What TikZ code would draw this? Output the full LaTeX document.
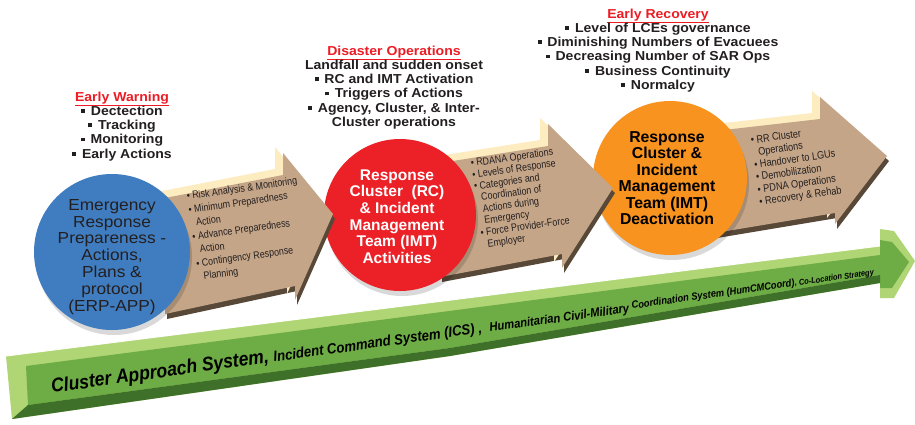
\documentclass[tikz,border=0pt]{standalone}
\usepackage{fontspec}
\setmainfont{Liberation Sans}
\newfontfamily\widefont[FakeStretch=1.08]{Liberation Sans}
\newfontfamily\narrowfont[FakeStretch=0.85]{Liberation Sans}
\newfontfamily\barfont[FakeStretch=0.9]{Liberation Sans}
\usetikzlibrary{calc}

\definecolor{headred}{RGB}{237,28,36}
\definecolor{listgray}{RGB}{35,31,32}
\definecolor{erpblue}{RGB}{64,125,192}
\definecolor{rcred}{RGB}{235,33,39}
\definecolor{imtorange}{RGB}{247,147,30}
\definecolor{arrowbrown}{RGB}{196,165,136}
\definecolor{arrowcream}{RGB}{252,236,192}
\definecolor{arrowshade}{RGB}{88,72,56}
\definecolor{barlight}{RGB}{176,213,116}
\definecolor{barmid}{RGB}{110,172,70}
\definecolor{bardark}{RGB}{62,112,42}

\def\sqbullet{\raisebox{0.18em}{\rule{0.3em}{0.3em}}\hspace{0.45em}}
\def\phasearrow(#1)(#2)(#3)(#4)(#5)(#6)(#7){%
  \fill[arrowshade, shift={(2,5)}] (#1) -- (#2) -- (#3) -- (#4) -- (#5) -- (#6) -- (#7) -- cycle;
  \fill[arrowcream, shift={(-8,-6)}] (#1) -- (#2) -- (#3) -- (#4) -- (#5) -- (#6) -- (#7) -- cycle;
  \fill[arrowbrown] (#1) -- (#2) -- (#3) -- (#4) -- (#5) -- (#6) -- (#7) -- cycle;}

\tikzset{
  phaselist/.style={align=center, inner sep=0pt, anchor=north, text=listgray,
    font=\widefont\bfseries\fontsize{13}{14.2}\selectfont},
  steptext/.style={align=left, inner sep=0pt, anchor=north west, rotate=8, text=listgray},
  barlabel/.style={inner sep=0pt, anchor=base west, rotate=8, text=black},
  balltext/.style={align=center, inner sep=0pt, anchor=north},
}

\begin{document}
\begin{tikzpicture}[x=1pt, y=-1pt]
		%%%%% START %%%%%
		\useasboundingbox (0,0) rectangle (915,424);
		\fill[white] (0,0) rectangle (915,424);
		
		% green bar
		\fill[barlight] (6,356) -- (880,246) -- (880,229) -- (894,231) -- (915,261) -- (894,298) -- (880,298) -- (880,283) -- (450,356) -- (12,419) -- cycle;
		\fill[barmid] (26,366) -- (880,255) -- (880,240) -- (892,242) -- (909,262) -- (892,288) -- (880,288) -- (880,275) -- (450,348) -- (28,405) -- cycle;
		\fill[bardark] (28,405) -- (450,348) -- (880,275) -- (880,283) -- (450,356) -- (12,419) -- cycle;
		\draw[white, line width=1] (6,356) -- (880,246);
		
		\node[barlabel, font=\barfont\bfseries\itshape\fontsize{19.5}{19.5}\selectfont] (barone) at (52,393) {Cluster Approach System,};
		\node[barlabel, font=\barfont\bfseries\itshape\fontsize{14.6}{14.6}\selectfont] (bartwo) at (274,362) {Incident Command System (ICS) ,};
		\node[barlabel, font=\barfont\bfseries\itshape\fontsize{12.4}{12.4}\selectfont] (barthree) at (490,332) {Humanitarian Civil-Military};
		\node[barlabel, font=\barfont\bfseries\itshape\fontsize{10.3}{10.3}\selectfont] (barfour) at (632,309) {Coordination System (HumCMCoord)};
		\node[barlabel, font=\barfont\bfseries\itshape\fontsize{8.3}{8.3}\selectfont] (barfive) at (795,286) {, Co-Location Strategy};
		
		% recovery arrow
		\phasearrow(715,131)(820,119)(820,97)(887,156)(835,224)(835,213)(715,233)
		\node[steptext, font=\narrowfont\fontsize{10.8}{12.4}\selectfont] (recitems) at (750,136)
			{\textbullet~RR Cluster\\ \hphantom{\textbullet~}Operations\\ \textbullet~Handover to LGUs\\ \textbullet~Demobilization\\ \textbullet~PDNA Operations\\ \textbullet~Recovery \& Rehab};
		
		\fill[black, opacity=0.15] (672,183) circle (77);
		\fill[imtorange] (670,178) circle (77);
		\node[balltext, text=black, font=\bfseries\fontsize{15.8}{16.4}\selectfont] (deacttext) at (667,131.5)
			{Response\\ Cluster \&\\ Incident\\ Management\\ Team (IMT)\\ Deactivation};
		
		% operations arrow
		\phasearrow(440,163)(548,146)(548,124)(613,188)(562,268)(562,254)(440,277)
		\node[steptext, font=\narrowfont\fontsize{10.5}{11.7}\selectfont] (opsitems) at (470,159)
			{\textbullet~RDANA Operations\\ \textbullet~Levels of Response\\ \textbullet~Categories and\\ \hphantom{\textbullet~}Coordination of\\ \hphantom{\textbullet~}Actions during\\ \hphantom{\textbullet~}Emergency\\ \textbullet~Force Provider-Force\\ \hphantom{\textbullet~}Employer};
		
		\fill[black, opacity=0.15] (402,220) circle (76);
		\fill[rcred] (400,215) circle (76);
		\node[balltext, text=white, font=\bfseries\fontsize{15.5}{16.6}\selectfont] (acttext) at (397,169.5)
			{Response\\ Cluster~ (RC)\\ \& Incident\\ Management\\ Team (IMT)\\ Activities};
		
		% preparedness arrow
		\phasearrow(165,198)(283,175)(283,153)(333,214)(295,300)(295,286)(165,314)
		\node[steptext, font=\narrowfont\fontsize{10.5}{13.6}\selectfont] (prepitems) at (186,192)
			{\textbullet~Risk Analysis \& Monitoring\\ \textbullet~Minimum Preparedness\\ \hphantom{\textbullet~}Action\\ \textbullet~Advance Preparedness\\ \hphantom{\textbullet~}Action\\ \textbullet~Contingency Response\\ \hphantom{\textbullet~}Planning};
		
		\fill[black, opacity=0.15] (114,257) circle (78);
		\fill[erpblue] (112,252) circle (78);
		\node[balltext, text=listgray, font=\widefont\fontsize{16}{16.8}\selectfont] (erptext) at (112,199)
			{Emergency\\ Response\\ Prepareness -\\ Actions,\\ Plans \&\\ protocol\\ (ERP-APP)};
		
		% phase headings
		\node[phaselist] (warnlist) at (122,91.6)
			{{\color{headred}\underline{Early Warning}}\\ \sqbullet Dectection\\ \sqbullet Tracking\\ \sqbullet Monitoring\\ \sqbullet Early Actions};
		\node[phaselist] (opslist) at (394,45.6)
			{{\color{headred}\underline{Disaster Operations}}\\ Landfall and sudden onset\\ \sqbullet RC and IMT Activation\\ \sqbullet Triggers of Actions\\ \sqbullet Agency, Cluster, \& Inter-\\ Cluster operations};
		\node[phaselist] (reclist) at (658,8.6)
			{{\color{headred}\underline{Early Recovery}}\\ \sqbullet Level of LCEs governance\\ \sqbullet Diminishing Numbers of Evacuees\\ \sqbullet Decreasing Number of SAR Ops\\ \sqbullet Business Continuity\\ \sqbullet Normalcy};
		
		%%%%% END %%%%%
	\end{tikzpicture}
\end{document}
